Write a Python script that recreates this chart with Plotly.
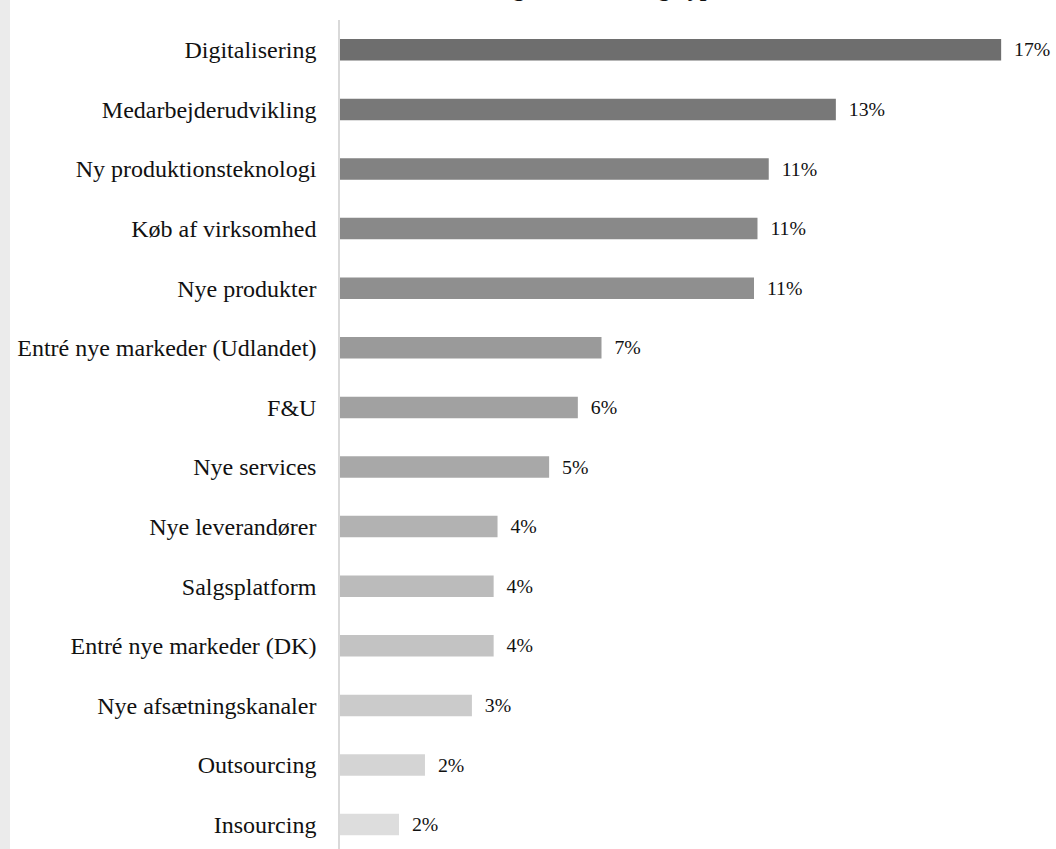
import plotly.graph_objects as go

# Investment areas and their share of respondents (percent)
categories = [
    "Digitalisering",
    "Medarbejderudvikling",
    "Ny produktionsteknologi",
    "Køb af virksomhed",
    "Nye produkter",
    "Entré nye markeder (Udlandet)",
    "F&U",
    "Nye services",
    "Nye leverandører",
    "Salgsplatform",
    "Entré nye markeder (DK)",
    "Nye afsætningskanaler",
    "Outsourcing",
    "Insourcing",
]
shares = [17.04, 12.78, 11.05, 10.76, 10.67, 6.74, 6.13, 5.39, 4.06, 3.96, 3.96, 3.40, 2.19, 1.52]

# Grey ramp from dark (largest) to light (smallest)
bar_colors = [
    "#6e6e6e", "#787878", "#828282", "#898989", "#8f8f8f", "#9a9a9a", "#a1a1a1",
    "#a8a8a8", "#b2b2b2", "#bbbbbb", "#c3c3c3", "#cbcbcb", "#d4d4d4", "#dddddd",
]

title_text = "Fordeling af investeringstyper"

W, H = 1056, 849
M_L, M_T, M_R, M_B = 340, 20, 0, 0
plot_w = W - M_L - M_R
plot_h = H - M_T - M_B
px_per_pct = 38.8
row_px = 59.6

fig = go.Figure(
    go.Bar(
        x=shares,
        y=categories,
        orientation="h",
        width=0.36,
        marker=dict(color=bar_colors, line=dict(width=0)),
        texttemplate="\u00a0\u00a0%{x:.0f}%",
        textposition="outside",
        textfont=dict(family="Liberation Serif", size=24, color="#111111"),
        cliponaxis=False,
        hoverinfo="skip",
    )
)

fig.update_layout(
    width=W,
    height=H,
    margin=dict(l=M_L, r=M_R, t=M_T, b=M_B, pad=0),
    paper_bgcolor="white",
    plot_bgcolor="white",
    showlegend=False,
    font=dict(family="Liberation Serif", size=24, color="#111111"),
    xaxis=dict(
        range=[0, plot_w / px_per_pct],
        visible=False,
        fixedrange=True,
    ),
    yaxis=dict(
        categoryorder="array",
        categoryarray=categories,
        range=[-0.5 + plot_h / row_px, -0.5],
        showline=True,
        linecolor="#d9d9d9",
        linewidth=1.5,
        showgrid=False,
        zeroline=False,
        ticks="",
        ticklabelstandoff=17,
        tickfont=dict(family="Liberation Serif", size=24, color="#111111"),
        fixedrange=True,
    ),
    annotations=[
        dict(
            text=title_text,
            xref="paper",
            yref="paper",
            x=(580 - M_L) / plot_w,
            y=1 + (M_T - 3) / plot_h,
            xanchor="center",
            yanchor="bottom",
            showarrow=False,
            font=dict(family="Liberation Serif", size=24, color="#111111", weight="bold"),
        )
    ],
    shapes=[
        # light grey strip along the left edge of the page
        dict(
            type="rect",
            xref="paper",
            yref="paper",
            x0=-M_L / plot_w,
            x1=(10 - M_L) / plot_w,
            y0=-0.1,
            y1=1.1,
            fillcolor="#ebebeb",
            line=dict(width=0),
            layer="below",
        )
    ],
)

fig.write_html("out.html")
